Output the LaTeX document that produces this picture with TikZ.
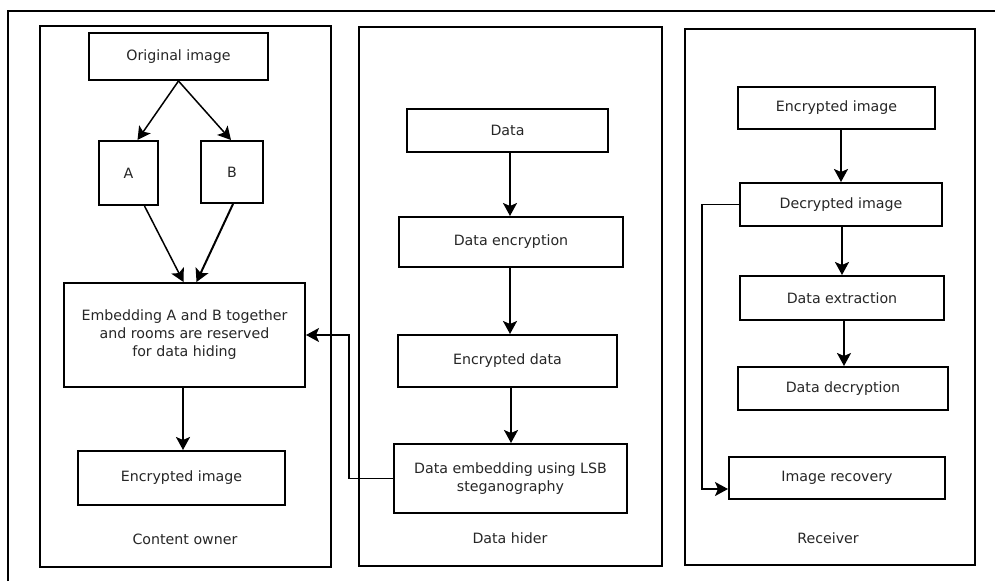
\documentclass[tikz,border=0pt]{standalone}
\usepackage{fontspec}
\setmainfont{DejaVu Sans}
\usetikzlibrary{arrows.meta}
\begin{document}
\begin{tikzpicture}[x=1pt,y=-1pt,
  every node/.style={font=\fontsize{14.2}{18}\selectfont, text=black!85},
  box/.style={draw=black, line width=2pt, inner sep=0pt, align=center},
  panel/.style={draw=black, line width=2pt},
  arr/.style={line width=2pt, -{Stealth[length=13pt,width=14pt,inset=3pt]}},
  thin arr/.style={line width=1.5pt, -{Stealth[length=13pt,width=14pt,inset=3pt]}},
  lbl/.style={inner sep=0pt}]
\useasboundingbox (0,0) rectangle (995,581);
\fill[white] (0,0) rectangle (995,581);
% outer frame (top and left edges)
\draw[line width=2pt] (8,581) -- (8,11) -- (995,11);
% panels
\draw[panel] (40,26) rectangle (331,567);
\draw[panel] (359,27) rectangle (662,566);
\draw[panel] (685,29) rectangle (975,565);
% panel 1
\node[box, minimum width=179pt, minimum height=47pt] (orig) at (178.5,56.5) {Original image};
\node[box, minimum width=59pt, minimum height=64pt] (A) at (128.5,173) {A};
\node[box, minimum width=62pt, minimum height=62pt] (B) at (232,172) {B};
\node[box, minimum width=241pt, minimum height=104pt] (embed) at (184.5,335) {Embedding A and B together\\and rooms are reserved\\for data hiding};
\node[box, minimum width=207pt, minimum height=54pt] (enc1) at (181.5,478) {Encrypted image};
\node[lbl] (owner) at (185,539) {Content owner};
% panel 2
\node[box, minimum width=201pt, minimum height=43pt] (data) at (507.5,130.5) {Data};
\node[box, minimum width=224pt, minimum height=50pt] (denc) at (511,242) {Data encryption};
\node[box, minimum width=219pt, minimum height=52pt] (encd) at (507.5,361) {Encrypted data};
\node[box, minimum width=233pt, minimum height=69pt] (lsb) at (510.5,478.5) {Data embedding using LSB\\steganography};
\node[lbl] (hider) at (510,538) {Data hider};
% panel 3
\node[box, minimum width=197pt, minimum height=42pt] (enc2) at (836.5,108) {Encrypted image};
\node[box, minimum width=202pt, minimum height=43pt] (dec) at (841,204.5) {Decrypted image};
\node[box, minimum width=204pt, minimum height=44pt] (dext) at (842,298) {Data extraction};
\node[box, minimum width=210pt, minimum height=43pt] (ddec) at (843,388.5) {Data decryption};
\node[box, minimum width=216pt, minimum height=42pt] (rec) at (837,478) {Image recovery};
\node[lbl] (recv) at (828,538) {Receiver};
% connectors panel 1
\draw[thin arr] (orig.south) -- ([xshift=9pt]A.north);
\draw[thin arr] (orig.south) -- ([xshift=-1pt]B.north);
\draw[thin arr] ([xshift=16pt]A.south) -- ([xshift=-1pt]embed.north);
\draw[arr] ([xshift=1pt]B.south) -- ([xshift=12pt]embed.north);
\draw[arr] ([xshift=-1.5pt]embed.south) -- ([xshift=-1.5pt]embed.south |- enc1.north);
% connectors panel 2
\draw[arr] ([xshift=2.5pt]data.south) -- ([xshift=2.5pt]data.south |- denc.north);
\draw[arr] ([xshift=-1pt]denc.south) -- ([xshift=-1pt]denc.south |- encd.north);
\draw[arr] ([xshift=3.5pt]encd.south) -- ([xshift=3.5pt]encd.south |- lsb.north);
\draw[thin arr] (lsb.west) -- ++(-44,0) |- (embed.east);
% connectors panel 3
\draw[arr] (dec.north |- enc2.south) -- (dec.north);
\draw[arr] ([xshift=1pt]dec.south) -- ([xshift=1pt]dec.south |- dext.north);
\draw[arr] ([xshift=2pt]dext.south) -- ([xshift=2pt]dext.south |- ddec.north);
\draw[thin arr] (dec.west) -- ++(-37,0) |- ([yshift=-11pt]rec.west);
\end{tikzpicture}
\end{document}
